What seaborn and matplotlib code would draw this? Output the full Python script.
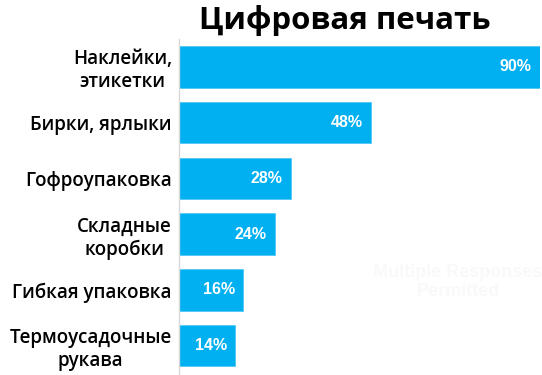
import pandas as pd
import matplotlib.pyplot as plt
import seaborn as sns

# ------------------------------------------------------------------
# Data
# ------------------------------------------------------------------
categories = [
    "Наклейки,\nэтикетки",
    "Бирки, ярлыки",
    "Гофроупаковка",
    "Складные\nкоробки",
    "Гибкая упаковка",
    "Термоусадочные\nрукава",
]
shares = [90, 48, 28, 24, 16, 14]
title = "Цифровая печать"
note = "Multiple Responses\nPermitted"

df = pd.DataFrame({"category": categories, "share": shares})

# ------------------------------------------------------------------
# Plot
# ------------------------------------------------------------------
sns.set_style("white")
plt.rcParams["font.family"] = ["Open Sans", "DejaVu Sans"]

fig = plt.figure(figsize=(5.42, 3.75), dpi=100)
ax = fig.add_axes([0.330, 0.004, 0.666, 0.892])

sns.barplot(data=df, x="share", y="category", orient="h",
            color="#00B0F0", saturation=1, width=0.74,
            edgecolor="#4FC8F4", linewidth=0.6, ax=ax)

ax.set_xlim(0, 90)
ax.set_ylim(len(categories) - 0.5, -0.5)
ax.set_xlabel("")
ax.set_ylabel("")
ax.set_xticks([])
ax.tick_params(axis="y", length=0, pad=5)
for lbl in ax.get_yticklabels():
    lbl.set_fontsize(13.5)
    lbl.set_fontweight("semibold")
    lbl.set_multialignment("center")
    lbl.set_color("black")

for side in ["top", "right", "bottom"]:
    ax.spines[side].set_visible(False)
ax.spines["left"].set_color("#D9D9D9")
ax.spines["left"].set_linewidth(1)

# value labels inside bar ends
for i, v in enumerate(shares):
    ax.annotate(f"{v}%", xy=(v, i), xytext=(-6, 0),
                textcoords="offset points", ha="right", va="center",
                color="white", fontsize=11.5, fontweight="bold",
                family="Liberation Sans")

# faint watermark
fig.text(458 / 542, 1 - 282 / 375, note, ha="center", va="center",
         fontsize=13, fontweight="bold", color="#F9F9F9",
         family="Liberation Sans")

fig.text(345 / 542, 1 - 20 / 375, title, ha="center", va="center",
         fontsize=22.5, fontweight="bold", color="black")

fig.savefig("out.png", dpi=100)
plt.close()
